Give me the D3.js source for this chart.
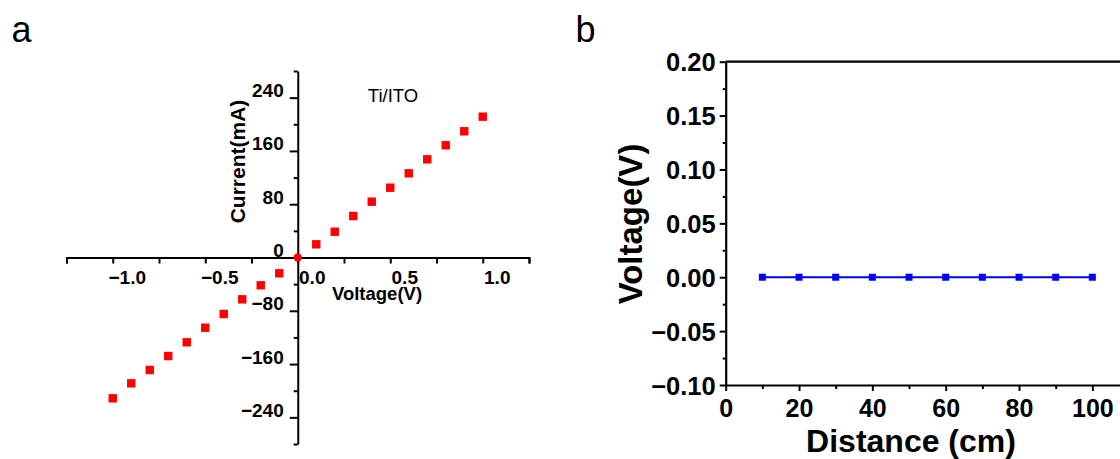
<!DOCTYPE html>
<html>
<head>
<meta charset="utf-8">
<script src="https://cdn.jsdelivr.net/npm/d3@7"></script>
<style>
  html, body { margin: 0; padding: 0; background: #fff; }
  svg { display: block; font-family: "Liberation Sans", Arial, sans-serif; }
</style>
</head>
<body>
<svg id="fig" width="1120" height="459"></svg>
<script>
// Panel a: I–V sweep of the Ti/ITO contact
const ivVoltage = [-1.0, -0.9, -0.8, -0.7, -0.6, -0.5, -0.4, -0.3, -0.2, -0.1, 0.0,
                   0.1, 0.2, 0.3, 0.4, 0.5, 0.6, 0.7, 0.8, 0.9, 1.0];
const ivCurrent = [-211.4, -188.9, -168.9, -147.9, -127.3, -105.4, -84.8, -62.8, -41.7, -23.7, 0,
                   19.8, 38.7, 62.3, 83.8, 104.8, 126.4, 147.4, 168.5, 189.5, 211.4];
const ivXTicks = [-1.25, -1.0, -0.75, -0.5, -0.25, 0, 0.25, 0.5, 0.75, 1.0, 1.25];
const ivXLabels = [-1.0, -0.5, 0, 0.5, 1.0];
const ivYTicks = [-280, -240, -200, -160, -120, -80, -40, 0, 40, 80, 120, 160, 200, 240, 280];
const ivYLabels = [-240, -160, -80, 0, 80, 160, 240];

// Panel b: voltage measured along the distance
const distance = [10, 20, 30, 40, 50, 60, 70, 80, 90, 100];
const voltageAlong = [0, 0, 0, 0, 0, 0, 0, 0, 0, 0];
const distTicks = [0, 10, 20, 30, 40, 50, 60, 70, 80, 90, 100, 110];
const distLabels = [0, 20, 40, 60, 80, 100];
const voltTicks = [-0.1, -0.075, -0.05, -0.025, 0, 0.025, 0.05, 0.075, 0.1, 0.125, 0.15, 0.175, 0.2];
const voltLabels = [-0.1, -0.05, 0, 0.05, 0.1, 0.15, 0.2];

const svg = d3.select("#fig");
const near = (a, list) => list.some(v => Math.abs(v - a) < 1e-9);

// ---------------- panel a ----------------
const xA = d3.scaleLinear().domain([-1.25, 1.25]).range([66.5, 529]);
const yA = d3.scaleLinear().domain([-280, 280]).range([444, 71]);
const gA = svg.append("g");

const axA_x = gA.append("g")
  .attr("transform", `translate(0,${yA(0)})`)
  .call(d3.axisBottom(xA).tickValues(ivXTicks).tickSizeOuter(0).tickSize(6)
        .tickFormat(d => near(d, ivXLabels) ? d3.format(".1f")(d) : ""));
axA_x.selectAll("text")
  .attr("dx", 14).attr("y", 13).attr("dy", "0.71em")
  .style("font-size", "19px").style("font-weight", "bold").attr("fill", "#000");

const axA_y = gA.append("g")
  .attr("transform", `translate(${xA(0)},0)`)
  .call(d3.axisLeft(yA).tickValues(ivYTicks).tickSizeOuter(0)
        .tickFormat(d => near(d, ivYLabels) ? d3.format("d")(d) : ""));
axA_y.selectAll(".tick line").attr("x2", d => near(d, ivYLabels) ? -8 : -4);
axA_y.selectAll("text")
  .attr("x", -14).attr("y", -1).attr("dy", "0")
  .style("font-size", "19px").style("font-weight", "bold").attr("fill", "#000");

[axA_x, axA_y].forEach(ax => {
  ax.select(".domain").attr("stroke", "#000").attr("stroke-width", 2);
  ax.selectAll(".tick line").attr("stroke", "#000").attr("stroke-width", 2);
});

gA.append("g").selectAll("rect")
  .data(ivVoltage.map((v, i) => [v, ivCurrent[i]]))
  .join("rect")
  .attr("x", d => xA(d[0]) - 4.2).attr("y", d => yA(d[1]) - 4.2)
  .attr("width", 8.4).attr("height", 8.4)
  .attr("rx", d => d[0] === 0 ? 4.5 : 0)
  .attr("fill", "#ff0000");

gA.append("text").attr("x", xA(0) - 53).attr("y", yA(0) - 96).attr("text-anchor", "middle")
  .attr("transform", `rotate(-90 ${xA(0) - 53} ${yA(0) - 96})`)
  .style("font-size", "21px").style("font-weight", "bold").text("Current(mA)");
gA.append("text").attr("x", 377).attr("y", 299.5).attr("text-anchor", "middle")
  .style("font-size", "18.5px").style("font-weight", "bold").text("Voltage(V)");
gA.append("text").attr("x", 393).attr("y", 101.7).attr("text-anchor", "middle")
  .style("font-size", "18.5px").text("Ti/ITO");
svg.append("text").attr("x", 11.5).attr("y", 41.7).style("font-size", "36px").text("a");

// ---------------- panel b ----------------
const xB = d3.scaleLinear().domain([0, 110]).range([725.7, 1129]);
const yB = d3.scaleLinear().domain([-0.1, 0.2]).range([385, 61.7]);
const gB = svg.append("g");

// top frame line
gB.append("line")
  .attr("x1", xB(0)).attr("x2", xB(110)).attr("y1", yB(0.2)).attr("y2", yB(0.2))
  .attr("stroke", "#000").attr("stroke-width", 2.2);

const axB_x = gB.append("g")
  .attr("transform", `translate(0,${yB(-0.1)})`)
  .call(d3.axisBottom(xB).tickValues(distTicks).tickSizeOuter(0)
        .tickFormat(d => near(d, distLabels) ? d : ""));
axB_x.selectAll(".tick line").attr("y2", d => near(d, distLabels) ? 6 : 4);
axB_x.selectAll("text")
  .attr("y", 14).attr("dy", "0.71em")
  .style("font-size", "25px").style("font-weight", "bold").attr("fill", "#000");

const axB_y = gB.append("g")
  .attr("transform", `translate(${xB(0)},0)`)
  .call(d3.axisLeft(yB).tickValues(voltTicks).tickSizeOuter(0)
        .tickFormat(d => near(d, voltLabels) ? d3.format(".2f")(d) : ""));
axB_y.selectAll(".tick line").attr("x2", d => near(d, voltLabels) ? -6 : -3);
axB_y.selectAll("text")
  .attr("x", -10).attr("dy", "0.36em")
  .style("font-size", "25.5px").style("font-weight", "bold").attr("fill", "#000");

[axB_x, axB_y].forEach(ax => {
  ax.select(".domain").attr("stroke", "#000").attr("stroke-width", 2.2);
  ax.selectAll(".tick line").attr("stroke", "#000").attr("stroke-width", 2);
});

const lineB = d3.line().x(d => xB(d[0])).y(d => yB(d[1]));
const ptsB = distance.map((d, i) => [d, voltageAlong[i]]);
gB.append("path").datum(ptsB).attr("d", lineB)
  .attr("fill", "none").attr("stroke", "#0000ee").attr("stroke-width", 2);
gB.append("g").selectAll("rect").data(ptsB).join("rect")
  .attr("x", d => xB(d[0]) - 3.5).attr("y", d => yB(d[1]) - 3.5)
  .attr("width", 7).attr("height", 7).attr("fill", "#0000ff");

gB.append("text").attr("transform", `translate(642,224) rotate(-90)`)
  .attr("text-anchor", "middle")
  .style("font-size", "33px").style("font-weight", "bold").text("Voltage(V)");
gB.append("text").attr("x", 911).attr("y", 452).attr("text-anchor", "middle")
  .style("font-size", "32px").style("font-weight", "bold").text("Distance (cm)");
svg.append("text").attr("x", 575.5).attr("y", 41.7).style("font-size", "36px").text("b");
</script>
</body>
</html>
